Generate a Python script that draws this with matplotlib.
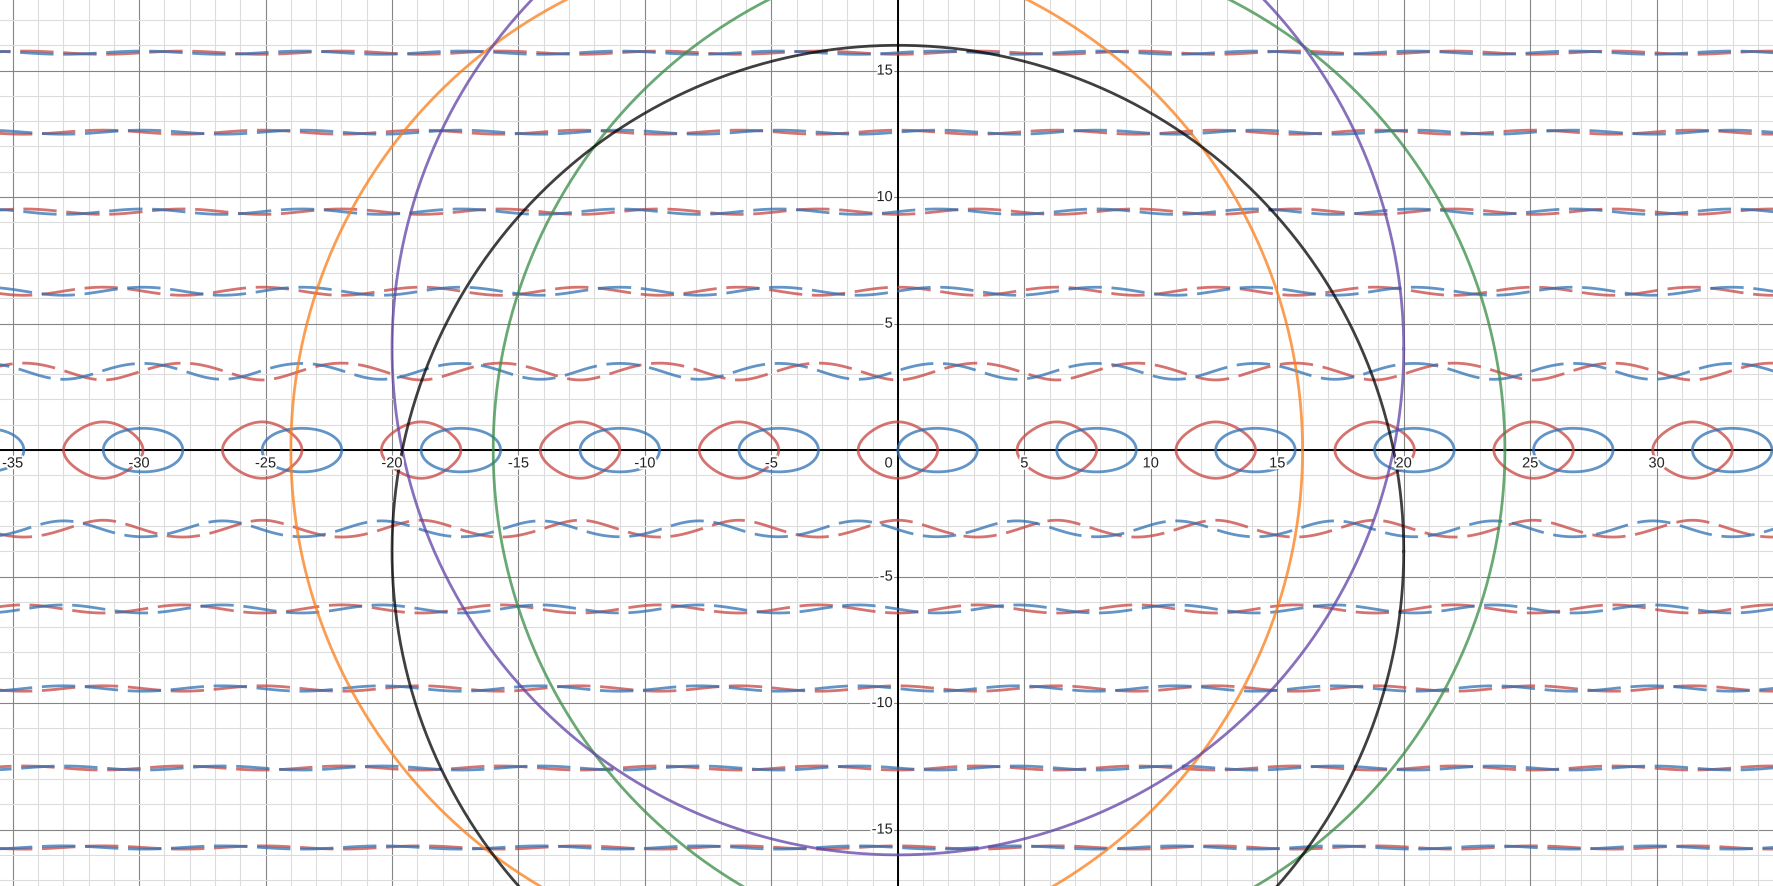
import numpy as np
import matplotlib.pyplot as plt
import matplotlib.patheffects as pe

# Circulos (centro x, centro y, raio)
circle_cx = [-4, 4, 0, 0]
circle_cy = [0, 0, 4, -4]
circle_r = [20, 20, 20, 20]
circle_colors = ['#fa7e19', '#388c46', '#6042a6', '#000000']

# Curvas implicitas: y*sin(y) = cos(x) (vermelho) e y*tan(y) = sin(x) (azul)
curve_names = ['vermelho', 'azul']
curve_colors = ['#c74440', '#2d70b3']

# Rotulos dos eixos
x_ticks = [-35, -30, -25, -20, -15, -10, -5, 5, 10, 15, 20, 25, 30]
y_ticks = [-15, -10, -5, 5, 10, 15]

# Janela visivel (unidades)
x_min, x_max = -35.5, 34.6
y_min, y_max = -17.23, 17.83

plt.rcParams['lines.dashed_pattern'] = [12, 3.5]
plt.rcParams['font.family'] = ['Liberation Sans', 'DejaVu Sans']

fig = plt.figure(figsize=(17.73, 8.87), dpi=100)
ax = fig.add_axes([0, 0, 1, 1])
ax.set_xlim(x_min, x_max)
ax.set_ylim(y_min, y_max)
ax.axis('off')

# Grade estilo Desmos
for v in range(-40, 41):
    cor = '#858585' if v % 5 == 0 else '#dcdcdc'
    ax.axvline(v, color=cor, lw=0.8, zorder=0)
    ax.axhline(v, color=cor, lw=0.8, zorder=0)
ax.axhline(0, color='black', lw=1.4, zorder=1)
ax.axvline(0, color='black', lw=1.4, zorder=1)


def f_curva(nome, X, Y):
    if nome == 'vermelho':
        return Y * np.sin(Y) - np.cos(X)
    # y*tan(y) = sin(x) sem os polos da tangente
    return Y * np.sin(Y) - np.sin(X) * np.cos(Y)


xs = np.linspace(x_min - 1, x_max + 1, 4000)
# perto do eixo x: lacos continuos
ys_mid = np.linspace(-1.9, 1.9, 600)
# longe do eixo: ondas tracejadas
ys_top = np.linspace(2.0, y_max + 1, 1500)
ys_bot = np.linspace(y_min - 1, -2.0, 1500)

for nome, cor in zip(curve_names, curve_colors):
    X, Y = np.meshgrid(xs, ys_mid)
    ax.contour(X, Y, f_curva(nome, X, Y), levels=[0], colors=[cor],
               linewidths=2.0, alpha=0.75, zorder=2)
    for ys in (ys_top, ys_bot):
        X, Y = np.meshgrid(xs, ys)
        ax.contour(X, Y, f_curva(nome, X, Y), levels=[0], colors=[cor],
                   linewidths=2.0, linestyles='dashed', alpha=0.75, zorder=2)

# Circulos
t = np.linspace(0, 2 * np.pi, 800)
for cx, cy, r, cor in zip(circle_cx, circle_cy, circle_r, circle_colors):
    ax.plot(cx + r * np.cos(t), cy + r * np.sin(t), color=cor, lw=2.0,
            alpha=0.75, zorder=3)

# Rotulos numericos com halo branco
halo = [pe.withStroke(linewidth=3, foreground='white')]
for v in x_ticks:
    ax.text(v, -0.25, str(v), ha='center', va='top', fontsize=10.5,
            color='#222222', path_effects=halo, zorder=5)
for v in y_ticks:
    ax.text(-0.2, v, str(v), ha='right', va='center', fontsize=10.5,
            color='#222222', path_effects=halo, zorder=5)
ax.text(-0.2, -0.25, '0', ha='right', va='top', fontsize=10.5,
        color='#222222', path_effects=halo, zorder=5)

plt.savefig('out.png', dpi=100)
